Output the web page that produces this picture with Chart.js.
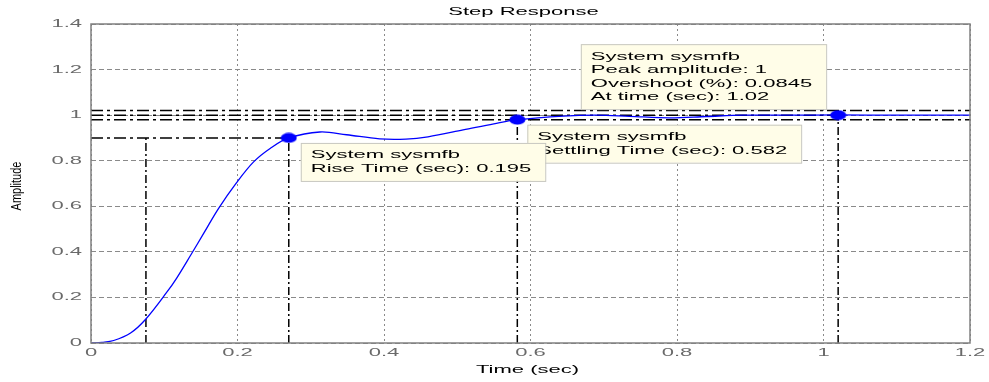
<!DOCTYPE html>
<html>
<head>
<meta charset="utf-8">
<script src="https://cdn.jsdelivr.net/npm/chart.js@4.4.1/dist/chart.umd.min.js"></script>
<style>
	body { margin: 0; background: #fff; }
	#wrap { width: 989px; height: 382px; }
</style>
</head>
<body>
<div id="wrap"><canvas id="stepChart" width="989" height="382"></canvas></div>
<script>
// step response
const timeSec = [0, 0.015, 0.031, 0.054, 0.074, 0.104, 0.117, 0.136, 0.154, 0.174, 0.199, 0.222,
	0.245, 0.27, 0.3125, 0.349, 0.394, 0.43, 0.46, 0.508, 0.55, 0.582, 0.645, 0.69, 0.735, 0.79,
	0.84, 0.89, 0.95, 1.02, 1.1, 1.2];
const amplitude = [0, 0.003, 0.011, 0.044, 0.102, 0.225, 0.285, 0.385, 0.482, 0.59, 0.705, 0.795,
	0.855, 0.9, 0.926, 0.914, 0.896, 0.895, 0.905, 0.935, 0.962, 0.98, 0.996, 1.0, 0.995, 0.988,
	0.994, 1.0, 1.0, 1.0008, 1.0, 1.0];

// characteristics
const riseStart = 0.075;
const riseEnd = 0.27;
const riseLevel = 0.9;
const settleTime = 0.582;
const settleLevel = 0.98;
const settleBand = [0.98, 1.02];
const peakTime = 1.02;
const peakAmp = 1.0;

const xRange = [0, 1.2];
const yRange = [0, 1.4];
const tickStep = 0.2;

const titleText = "Step Response";
const xLabel = "Time (sec)";
const yLabel = "Amplitude";

const riseTip = ["System sysmfb", "Rise Time (sec): 0.195"];
const settleTip = ["System sysmfb", "Settling Time (sec): 0.582"];
const peakTip = ["System sysmfb", "Peak amplitude: 1", "Overshoot (%): 0.0845", "At time (sec): 1.02"];

const SX = 2.0; // the reference text is stretched sideways
const FONT = '11px "Liberation Sans", Arial, sans-serif';

function drawText(ctx, str, x, y, align, color) {
	ctx.save();
	ctx.font = FONT;
	ctx.fillStyle = color;
	ctx.textAlign = align;
	ctx.textBaseline = "middle";
	ctx.translate(x, y);
	ctx.scale(SX, 1);
	ctx.fillText(str, 0, 0);
	ctx.restore();
}

function fmt(v) {
	return String(Number(v.toFixed(1)));
}

function tipSize(ctx, lines) {
	ctx.save();
	ctx.font = FONT;
	const w = Math.max(...lines.map((l) => ctx.measureText(l).width)) * SX + 24;
	ctx.restore();
	return { w, h: lines.length * 13.5 + 11 };
}

function drawTip(ctx, lines, left, top) {
	const { w, h } = tipSize(ctx, lines);
	ctx.save();
	ctx.fillStyle = "#fffde8";
	ctx.fillRect(left, top, w, h);
	ctx.strokeStyle = "#c8c8c0";
	ctx.lineWidth = 1;
	ctx.strokeRect(left + 0.5, top + 0.5, w, h);
	ctx.restore();
	lines.forEach((l, i) => drawText(ctx, l, left + 10, top + 12.5 + i * 13.5, "left", "#000"));
}

const decorPlugin = {
	id: "decor",
	beforeDraw(chart) {
		const ctx = chart.ctx;
		ctx.save();
		ctx.fillStyle = "#fff";
		ctx.fillRect(0, 0, chart.width, chart.height);
		ctx.restore();
	},
	afterDraw(chart) {
		const { ctx, chartArea: a, scales } = chart;
		const x = scales.x;
		const y = scales.y;

		// axes box
		ctx.save();
		ctx.strokeStyle = "#808080";
		ctx.lineWidth = 1.5;
		ctx.strokeRect(a.left, a.top, a.right - a.left, a.bottom - a.top);
		ctx.restore();

		// tick labels
		x.ticks.forEach((t, i) => drawText(ctx, fmt(t.value), x.getPixelForTick(i), a.bottom + 10, "center", "#6a6a6a"));
		y.ticks.forEach((t, i) => drawText(ctx, fmt(t.value), a.left - 9, y.getPixelForTick(i), "right", "#6a6a6a"));

		// titles
		drawText(ctx, titleText, (a.left + a.right) / 2 - 7, 12, "center", "#000");
		drawText(ctx, xLabel, (a.left + a.right) / 2 - 3, 370, "center", "#000");
		ctx.save();
		ctx.font = FONT;
		ctx.fillStyle = "#000";
		ctx.textAlign = "center";
		ctx.textBaseline = "middle";
		ctx.translate(16.5, 186);
		ctx.rotate(-Math.PI / 2);
		ctx.scale(1, 1.4);
		ctx.fillText(yLabel, 0, 0);
		ctx.restore();

		// data tips, peak first, rise tip on top
		const pk = tipSize(ctx, peakTip);
		drawTip(ctx, peakTip, x.getPixelForValue(peakTime) - 12 - pk.w, y.getPixelForValue(peakAmp) - 6 - pk.h);
		drawTip(ctx, settleTip, x.getPixelForValue(settleTime) + 10, y.getPixelForValue(settleLevel) + 5);
		drawTip(ctx, riseTip, x.getPixelForValue(riseEnd) + 12, y.getPixelForValue(riseLevel) + 5);
	},
};

// blue datatip marker, wider than tall like the reference
const marker = document.createElement("canvas");
marker.width = 17;
marker.height = 11;
{
	const m = marker.getContext("2d");
	m.fillStyle = "#0000ff";
	m.beginPath();
	m.ellipse(8.5, 5.5, 8, 5, 0, 0, Math.PI * 2);
	m.fill();
}

const H_DASH = [12, 4, 3, 4];
const V_DASH = [8, 3, 2, 3];

function refLine(points, dash) {
	return {
		data: points,
		showLine: true,
		borderColor: "#000",
		borderWidth: 1.5,
		borderDash: dash,
		pointRadius: 0,
		order: 3,
	};
}

const ctx = document.getElementById("stepChart").getContext("2d");

new Chart(ctx, {
	type: "scatter",
	data: {
		datasets: [
			{
				label: "markers",
				data: [
					{ x: riseEnd, y: riseLevel },
					{ x: settleTime, y: settleLevel },
					{ x: peakTime, y: peakAmp },
				],
				pointStyle: marker,
				pointRadius: 6,
				order: 0,
			},
			{
				label: "sysmfb",
				data: timeSec.map((t, i) => ({ x: t, y: amplitude[i] })),
				showLine: true,
				borderColor: "#0000ff",
				borderWidth: 1.3,
				pointRadius: 0,
				tension: 0.35,
				order: 1,
			},
			refLine([{ x: xRange[0], y: riseLevel }, { x: riseEnd, y: riseLevel }], H_DASH),
			refLine([{ x: riseStart, y: 0 }, { x: riseStart, y: riseLevel }], V_DASH),
			refLine([{ x: riseEnd, y: 0 }, { x: riseEnd, y: riseLevel }], V_DASH),
			refLine([{ x: xRange[0], y: settleBand[0] }, { x: xRange[1], y: settleBand[0] }], H_DASH),
			refLine([{ x: xRange[0], y: settleBand[1] }, { x: xRange[1], y: settleBand[1] }], H_DASH),
			refLine([{ x: settleTime, y: 0 }, { x: settleTime, y: settleLevel }], V_DASH),
			refLine([{ x: xRange[0], y: peakAmp }, { x: peakTime, y: peakAmp }], H_DASH),
			refLine([{ x: peakTime, y: 0 }, { x: peakTime, y: peakAmp }], V_DASH),
		],
	},
	options: {
		responsive: false,
		animation: false,
		devicePixelRatio: 1,
		layout: { padding: { left: 91, right: 19, top: 24, bottom: 39 } },
		plugins: {
			legend: { display: false },
			tooltip: { enabled: false },
		},
		scales: {
			x: {
				type: "linear",
				min: xRange[0],
				max: xRange[1],
				ticks: { stepSize: tickStep, display: false },
				grid: { color: "#8a8a8a", lineWidth: 1, drawTicks: false },
				border: { display: false, dash: [2, 3] },
			},
			y: {
				type: "linear",
				min: yRange[0],
				max: yRange[1],
				ticks: { stepSize: tickStep, display: false },
				grid: { color: "#8a8a8a", lineWidth: 1, drawTicks: false },
				border: { display: false, dash: [5, 3] },
			},
		},
	},
	plugins: [decorPlugin],
});
</script>
</body>
</html>
